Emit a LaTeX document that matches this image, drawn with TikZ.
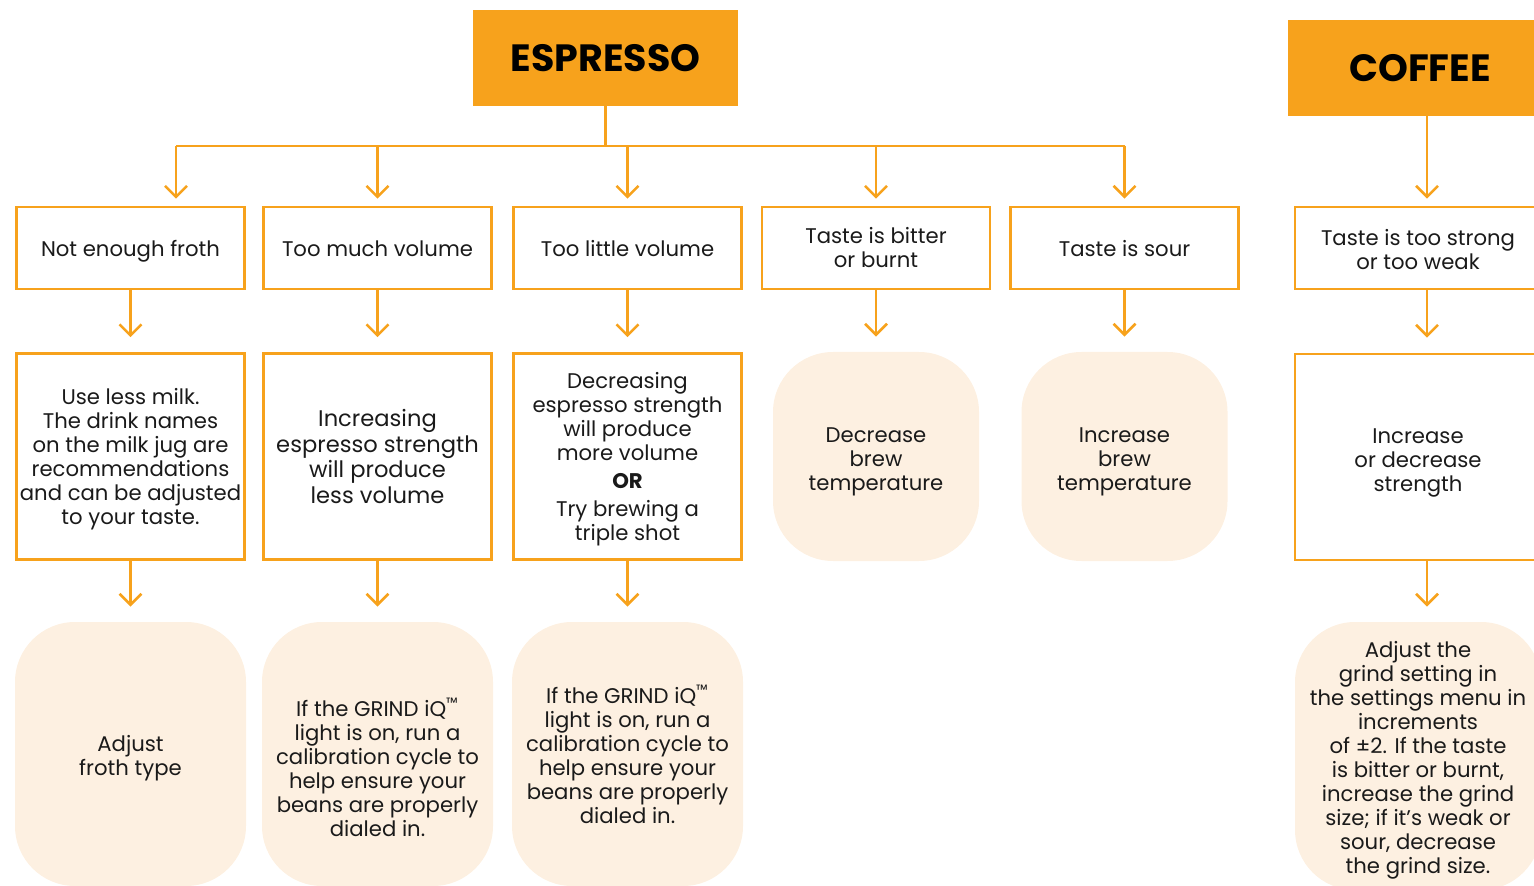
\documentclass[tikz,border=0pt]{standalone}
\usepackage{fontspec}
\setmainfont{Poppins}
\usetikzlibrary{arrows.meta}
\definecolor{brand}{HTML}{F7A21C}
\definecolor{peach}{HTML}{FDF0E1}
\definecolor{ink}{HTML}{1A1A1A}

\begin{document}
\begin{tikzpicture}[x=0.5pt, y=-0.5pt,
    head/.style={fill=brand, text=black, minimum width=132.5pt, minimum height=48pt,
      font=\fontsize{19}{21}\selectfont\bfseries},
    sink/.style={text height=#1, text depth=0pt},
    issue/.style={draw=brand, line width=1.3pt, minimum width=114pt, minimum height=41pt,
      inner sep=0pt, align=center, text=ink, font=\fontsize{10.6}{12}\selectfont},
    single/.style={issue, text height=10pt, text depth=1.4pt},
    remedy/.style={issue, minimum height=103pt},
    fix/.style={fill=peach, rounded corners=30pt, minimum width=115.5pt, minimum height=132pt,
      inner sep=0pt, align=center, text=ink, font=\fontsize{10.6}{12}\selectfont},
    link/.style={draw=brand, line width=1.3pt, -{Straight Barb[length=5.5pt,width=11pt]}},
    trunk/.style={draw=brand, line width=1.3pt}]
    \clip (0,0) rectangle (1534,886);

    % headers
    \node[head] (esp) at (605.5,58) {ESPRESSO};
    \node[head] (cof) at (1420,68) {COFFEE};

    % problems
    \node[single] (p1) at (130.5,248) {Not enough froth};
    \node[single] (p2) at (377.5,248) {Too much volume};
    \node[single] (p3) at (627.5,248) {Too little volume};
    \node[issue] (p4) at (876,248) {Taste is bitter\\or burnt};
    \node[single] (p5) at (1124.5,248) {Taste is sour};
    \node[issue, minimum width=123pt, sink=21.8pt] (p6) at (1418,248) {Taste is too strong\\or too weak};

    % first steps
    \node[remedy, text depth=0pt] (s1) at (130.5,456.5) {Use less milk.\\The drink names\\on the milk jug are\\recommendations\\and can be adjusted\\to your taste.};
    \node[remedy, font=\fontsize{11.3}{12.8}\selectfont] (s2) at (377.5,456.5) {Increasing\\espresso strength\\will produce\\less volume};
    \node[remedy, text depth=0pt] (s3) at (627.5,456.5) {Decreasing\\espresso strength\\will produce\\more volume\\[2pt]\textbf{OR}\\[2pt]Try brewing a\\triple shot};
    \node[fix, minimum width=103pt, minimum height=104.5pt, sink=33.8pt] (s4) at (876,456.5) {Decrease\\brew\\temperature};
    \node[fix, minimum width=103pt, minimum height=104.5pt, sink=33.8pt] (s5) at (1124.5,456.5) {Increase\\brew\\temperature};
    \node[remedy, minimum width=123pt, sink=34.8pt] (s6) at (1418,457) {Increase\\or decrease\\strength};

    % second steps
    \node[fix, sink=21.8pt] (t1) at (130.5,754) {Adjust\\froth type};
    \node[fix, sink=82pt] (t2) at (377.5,754) {If the GRIND iQ\textsuperscript{™}\\light is on, run a\\calibration cycle to\\help ensure your\\beans are properly\\dialed in.};
    \node[fix] (t3) at (627.5,754) {If the GRIND iQ\textsuperscript{™}\\light is on, run a\\calibration cycle to\\help ensure your\\beans are properly\\dialed in.};
    \node[fix, minimum width=123pt, minimum height=134pt, sink=117.8pt] (t6) at (1418,756) {Adjust the\\grind setting in\\the settings menu in\\increments\\of ±2. If the taste\\is bitter or burnt,\\increase the grind\\size; if it’s weak or\\sour, decrease\\the grind size.};

    % espresso tree
    \coordinate (bar) at (605.5,146);
    \coordinate (j1) at (176,146);
    \coordinate (j5) at (1124.5,146);
    \draw[trunk] (esp.south) -- (bar);
    \draw[trunk] (j1) -- (j5);
    \draw[link, shorten >=3.5pt] (j1) -- (j1 |- p1.north);
    \foreach \k in {2,3,4,5}
      \draw[link, shorten >=3.5pt] (bar -| p\k.north) -- (p\k.north);

    % down the columns
    \foreach \k in {1,2,3,4,5}
      \draw[link, shorten >=7.5pt] (p\k.south) -- (s\k.north);
    \foreach \k in {1,2,3}
      \draw[link, shorten >=7.5pt] (s\k.south) -- (t\k.north);

    % coffee column
    \coordinate (cx) at (1427,0);
    \draw[link, shorten >=3.5pt] (cof.south -| cx) -- (p6.north -| cx);
    \draw[link, shorten >=7.5pt] (p6.south -| cx) -- (s6.north -| cx);
    \draw[link, shorten >=7.5pt] (s6.south -| cx) -- (t6.north -| cx);
  \end{tikzpicture}
\end{document}
